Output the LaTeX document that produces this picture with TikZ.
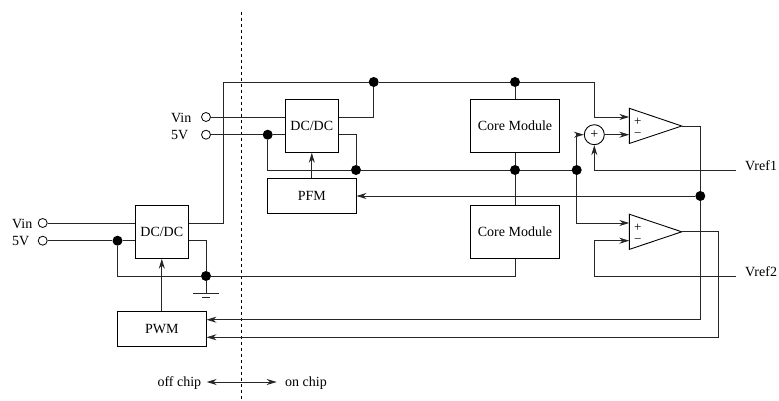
\documentclass[tikz,border=0pt]{standalone}
\usepackage{fontspec}
\setmainfont{Liberation Serif}
\usetikzlibrary{arrows.meta}
\tikzset{
  wire/.style = {line width = 0.9pt, color = black!85},
  feed/.style = {wire, -{Stealth[length = 10pt, width = 6pt]}},
  block/.style = {draw, line width = 0.9pt, inner sep = 0pt, font = \fontsize{14}{14}\selectfont},
  dcbox/.style = {block, minimum width = 53pt, minimum height = 53pt},
  corebox/.style = {block, minimum width = 88.5pt, minimum height = 53pt},
  ctrlbox/.style = {block, minimum width = 88.5pt, minimum height = 35pt},
  junction/.style = {circle, fill = black, inner sep = 0pt, minimum size = 10pt},
  terminal/.style = {circle, draw, fill = white, line width = 0.8pt, inner sep = 0pt, minimum size = 9pt},
  pinlabel/.style = {anchor = base west, inner sep = 0pt, font = \fontsize{14}{14}\selectfont},
  sign/.style = {inner sep = 0pt, font = \fontsize{13}{13}\selectfont}
}
\begin{document}
\begin{tikzpicture}[x = 1pt, y = -1pt]
\useasboundingbox (0, 0) rectangle (779, 401);
\draw [line width = 0.9pt, dashed] (241.3, 12) -- (241.3, 401);
% blocks
\node [dcbox] (dcLow) at (161.8, 231.8) {DC/DC};
\node [dcbox] (dcHigh) at (311.8, 125.8) {DC/DC};
\node [ctrlbox] (pwm) at (161.8, 328.8) {PWM};
\node [ctrlbox] (pfm) at (311.8, 196) {PFM};
\node [corebox] (coreTop) at (515, 125.8) {Core Module};
\node [corebox] (coreBot) at (515, 231.8) {Core Module};
\node [block, circle, minimum size = 20pt] (sum) at (594.3, 134.7) {+};
% terminals
\node [terminal] (vinLow) at (42.7, 223) {};
\node [terminal] (fiveLow) at (42.7, 240.7) {};
\node [terminal] (vinHigh) at (206, 117) {};
\node [terminal] (fiveHigh) at (206, 134.7) {};
\node [pinlabel] (vinLowText) at (12, 228) {Vin};
\node [pinlabel] (fiveLowText) at (12, 245.7) {5V};
\node [pinlabel] (vinHighText) at (171, 122.3) {Vin};
\node [pinlabel] (fiveHighText) at (171, 139.5) {5V};
\node [pinlabel] (vrefOneText) at (745, 170) {Vref1};
\node [pinlabel] (vrefTwoText) at (745, 276) {Vref2};
% junctions
\node [junction] (dotLowIn) at (117.5, 240.7) {};
\node [junction] (dotGnd) at (206, 276) {};
\node [junction] (dotHighIn) at (267.7, 134.7) {};
\node [junction] (dotBus) at (356, 170) {};
\node [junction] (dotRail) at (373.7, 82) {};
\node [junction] (dotCoreTop) at (515, 82) {};
\node [junction] (dotCoreMid) at (515, 170) {};
\node [junction] (dotSplit) at (576.7, 170) {};
\node [junction] (dotFb) at (700.3, 196) {};
\coordinate (railLeft) at (223.5, 82);
\coordinate (railRight) at (594.3, 82);
\coordinate (vrefOneEnd) at (735.7, 170);
\coordinate (vrefTwoEnd) at (735.7, 276);
\coordinate (gndTop) at (206, 293.3);
% amplifiers
\coordinate (ampTopPlus) at (629.3, 117);
\coordinate (ampTopMinus) at (629.3, 134.7);
\coordinate (ampTopOut) at (681.7, 126);
\coordinate (ampBotPlus) at (629.3, 223);
\coordinate (ampBotMinus) at (629.3, 240.7);
\coordinate (ampBotOut) at (681.7, 231.8);
\draw [line width = 0.9pt] (629.3, 108.3) -- (ampTopOut) -- (629.3, 143.5) -- cycle;
\draw [line width = 0.9pt] (629.3, 214.2) -- (ampBotOut) -- (629.3, 249.4) -- cycle;
\node [sign] (ampTopP) at (637.7, 122) {+};
\node [sign] (ampTopM) at (637.7, 135.5) {−};
\node [sign] (ampBotP) at (637.7, 228) {+};
\node [sign] (ampBotM) at (637.7, 241.5) {−};
% supply wiring
\draw [wire] (vinLow) -- (dcLow.west |- vinLow);
\draw [wire] (fiveLow) -- (dotLowIn) -- (dcLow.west |- dotLowIn);
\draw [wire] (vinHigh) -- (dcHigh.west |- vinHigh);
\draw [wire] (fiveHigh) -- (dotHighIn) -- (dcHigh.west |- dotHighIn);
\draw [wire] (dcLow.east |- vinLow) -| (railLeft) -- (dotRail) -- (dotCoreTop) -- (railRight);
\draw [wire] (dcHigh.east |- vinHigh) -| (dotRail);
\draw [wire] (dcHigh.east |- fiveHigh) -| (dotBus);
\draw [wire] (dotHighIn) |- (dotBus);
\draw [wire] (dotBus) -- (dotCoreMid) -- (dotSplit);
\draw [wire] (dotCoreTop) -- (coreTop);
\draw [wire] (coreTop) -- (dotCoreMid);
\draw [wire] (coreBot) -- (dotCoreMid);
\draw [wire] (dcLow.east |- fiveLow) -| (dotGnd);
\draw [wire] (dotLowIn) |- (dotGnd);
\draw [wire] (coreBot) |- (dotGnd);
\draw [wire] (dotGnd) -- (gndTop);
\draw [wire] ([xshift = -13pt] gndTop) -- ([xshift = 13pt] gndTop);
\draw [wire] ([xshift = -4pt, yshift = -4.4pt] gndTop) -- ([xshift = 4pt, yshift = -4.4pt] gndTop);
% amplifier inputs
\draw [feed] (railRight) |- (ampTopPlus);
\draw [feed] (dotSplit) |- (sum);
\draw [feed] (sum) -- (ampTopMinus);
\draw [feed] (vrefOneEnd) -| (sum);
\draw [feed] (dotSplit) |- (ampBotPlus);
\draw [feed] (vrefTwoEnd) -| (594.3, 240.7) -- (ampBotMinus);
% feedback
\draw [feed] (pwm) -- (dcLow);
\draw [feed] (pfm) -- (dcHigh);
\draw [feed] (dotFb) -- (pfm);
\draw [wire] (ampTopOut) -| (dotFb);
\draw [feed] (dotFb) |- (pwm.east |- 0, 319.7);
\draw [feed] (ampBotOut) -| (718, 337.3) -- (pwm.east |- 0, 337.3);
% chip boundary
\coordinate (offEnd) at (206.7, 382);
\coordinate (onEnd) at (276.7, 382);
\draw [wire, {Stealth[length = 10pt, width = 6pt]}-{Stealth[length = 10pt, width = 6pt]}] (offEnd) -- (onEnd);
\node [pinlabel] (offText) at (157.3, 386) {off chip};
\node [pinlabel] (onText) at (285, 386) {on chip};
\end{tikzpicture}
\end{document}
